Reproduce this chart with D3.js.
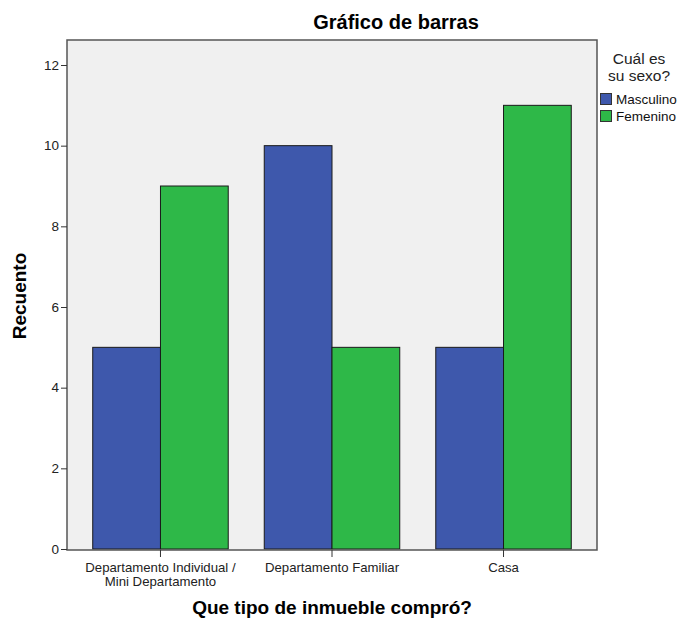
<!DOCTYPE html>
<html>
<head>
<meta charset="utf-8">
<script src="https://cdn.jsdelivr.net/npm/d3@7"></script>
<style>
  body { margin: 0; background: #fff; }
  text { font-family: "Liberation Sans", Arial, sans-serif; }
</style>
</head>
<body>
<script>
// data
const categories = [["Departamento Individual /", "Mini Departamento"], ["Departamento Familiar"], ["Casa"]];
const catKeys = ["Departamento Individual / Mini Departamento", "Departamento Familiar", "Casa"];
const seriesNames = ["Masculino", "Femenino"];
const masculino = [5, 10, 5];
const femenino = [9, 5, 11];
const yTicks = [0, 2, 4, 6, 8, 10, 12];
const colors = ["#3e58ac", "#2eb848"];

const W = 680, H = 620;
const plot = { left: 67, right: 597, top: 40, bottom: 550 };

const svg = d3.select("body").append("svg")
  .attr("width", W).attr("height", H);

// plot background
svg.append("rect")
  .attr("x", plot.left).attr("y", plot.top)
  .attr("width", plot.right - plot.left).attr("height", plot.bottom - plot.top)
  .attr("fill", "#f0f0f0");

const y = d3.scaleLinear().domain([0, 12]).range([plot.bottom - 1, 65]);
const x = d3.scaleBand().domain(catKeys).range([plot.left, plot.right])
  .paddingInner(0.21).paddingOuter(0.15);
const xs = d3.scaleBand().domain(seriesNames).range([0, x.bandwidth()]);

const rows = catKeys.map((c, i) => ({ cat: c, vals: [masculino[i], femenino[i]] }));

const g = svg.selectAll(".grp").data(rows).enter().append("g")
  .attr("transform", d => `translate(${x(d.cat)},0)`);
g.selectAll("rect").data(d => d.vals.map((v, j) => ({ s: seriesNames[j], v: v, j: j })))
  .enter().append("rect")
  .attr("x", d => xs(d.s))
  .attr("y", d => y(d.v))
  .attr("width", xs.bandwidth())
  .attr("height", d => y(0) - y(d.v))
  .attr("fill", d => colors[d.j])
  .attr("stroke", "#1a1a1a")
  .attr("stroke-width", 1);

// frame
svg.append("rect")
  .attr("x", plot.left).attr("y", plot.top)
  .attr("width", plot.right - plot.left).attr("height", plot.bottom - plot.top)
  .attr("fill", "none").attr("stroke", "#555").attr("stroke-width", 1.5);

// y axis
const yAxis = d3.axisLeft(y).tickValues(yTicks).tickSize(6).tickPadding(2);
const ya = svg.append("g").attr("transform", `translate(${plot.left},0)`).call(yAxis);
ya.select(".domain").remove();
ya.selectAll("line").attr("stroke", "#333");
ya.selectAll("text").style("font-size", "13.5px").attr("fill", "#222");

// x axis
const xAxis = d3.axisBottom(x).tickSize(7).tickFormat("");
const xa = svg.append("g").attr("transform", `translate(0,${plot.bottom})`).call(xAxis);
xa.select(".domain").remove();
xa.selectAll("line").attr("stroke", "#333");
xa.selectAll(".tick").each(function (d, i) {
  const t = d3.select(this).append("text")
    .attr("text-anchor", "middle").attr("fill", "#222")
    .style("font-size", "13.2px");
  categories[i].forEach((line, k) => {
    t.append("tspan").attr("x", 0).attr("y", 22 + k * 14).text(line);
  });
});

// titles
svg.append("text").attr("x", 396).attr("y", 29).attr("text-anchor", "middle")
  .style("font-size", "20px").style("font-weight", "bold").text("Gráfico de barras");
svg.append("text").attr("x", 332).attr("y", 614).attr("text-anchor", "middle")
  .style("font-size", "19px").style("font-weight", "bold").text("Que tipo de inmueble compró?");
svg.append("text").attr("transform", "translate(26,296) rotate(-90)").attr("text-anchor", "middle")
  .style("font-size", "19px").style("font-weight", "bold").text("Recuento");

// legend
const lg = svg.append("g");
lg.append("text").attr("x", 639).attr("y", 64).attr("text-anchor", "middle")
  .style("font-size", "15.5px").attr("fill", "#222").text("Cuál es");
lg.append("text").attr("x", 639).attr("y", 81).attr("text-anchor", "middle")
  .style("font-size", "15.5px").attr("fill", "#222").text("su sexo?");
seriesNames.forEach((s, i) => {
  lg.append("rect").attr("x", 600.5).attr("y", 93.5 + i * 17)
    .attr("width", 11).attr("height", 11)
    .attr("fill", colors[i]).attr("stroke", "#333");
  lg.append("text").attr("x", 616).attr("y", 104 + i * 17)
    .style("font-size", "13.5px").attr("fill", "#111").text(s);
});
</script>
</body>
</html>
